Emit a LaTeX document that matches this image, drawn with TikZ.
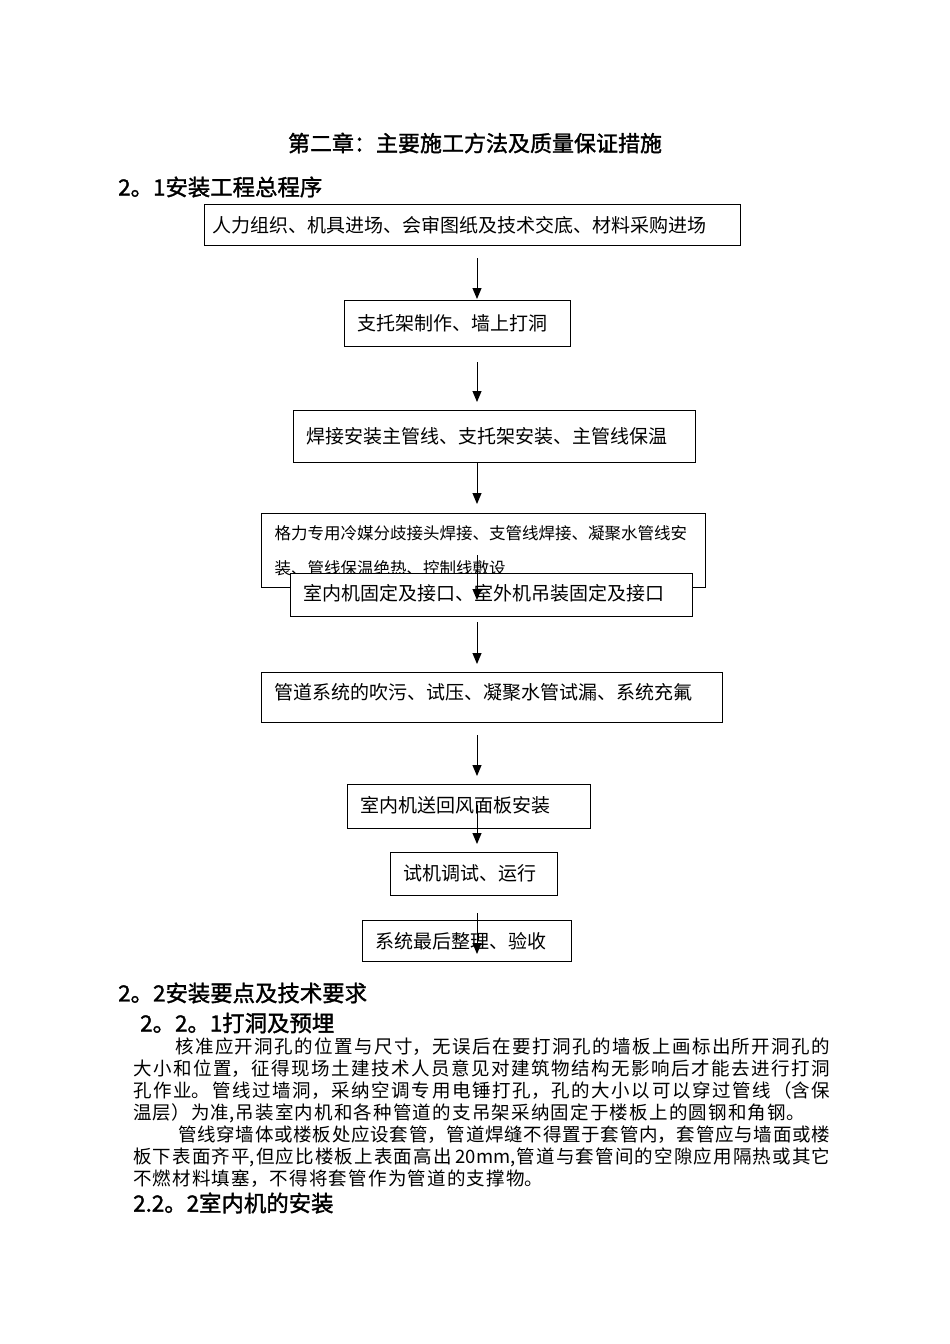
\documentclass[tikz,border=0pt]{standalone}
\usepackage{fontspec}
\newfontfamily\cjk{Noto Sans CJK SC}
\newfontfamily\cjkb[FakeBold=1.5]{Noto Sans CJK SC}
\usetikzlibrary{arrows.meta}
\newcommand\jline[1]{\parbox{697pt}{\XeTeXlinebreaklocale "zh"\XeTeXlinebreakskip=1.2pt plus 4pt minus 0.5pt\relax\parfillskip=0pt #1}}
\newcommand\rline[1]{\parbox{697pt}{\XeTeXlinebreaklocale "zh"\XeTeXlinebreakskip=1.2pt plus 4pt minus 0.5pt\relax #1}}
\begin{document}
\begin{tikzpicture}[x=1pt,y=-1pt,
  box/.style={draw, line width=1.1pt, anchor=north west, inner xsep=13pt, inner ysep=0pt, align=left, fill=white, font=\cjk\fontsize{19}{23}\selectfont},
  arr/.style={line width=1pt, -{Triangle[length=11pt,width=9pt]}},
  head/.style={anchor=west, inner sep=0pt, font=\cjkb\fontsize{22.4}{26}\selectfont},
  para/.style={anchor=west, inner sep=0pt, font=\cjk\fontsize{18.5}{22}\selectfont},
]
\useasboundingbox[fill=white] (0,0) rectangle (950,1344);

% headings
\node[head, anchor=center, font=\cjkb\fontsize{22}{26}\selectfont] (title) at (475,143) {第二章：主要施工方法及质量保证措施};
\node[head] (h21) at (118,187) {2。1安装工程总程序};

% flow boxes
\node[box, inner xsep=8pt, text width=520pt, minimum height=41pt] (b1) at (204,204) {人力组织、机具进场、会审图纸及技术交底、材料采购进场};
\node[box, text width=200pt, minimum height=46pt] (b2) at (344,300) {支托架制作、墙上打洞};
\node[box, text width=376pt, minimum height=52pt] (b3) at (293,410) {焊接安装主管线、支托架安装、主管线保温};
\node[box, text width=418pt, minimum height=74pt, font=\cjk\fontsize{16.5}{35}\selectfont] (b4) at (261,513) {格力专用冷媒分歧接头焊接、支管线焊接、凝聚水管线安\\装、管线保温绝热、控制线敷设};
\node[box, text width=376pt, minimum height=43pt] (b5) at (290,573) {室内机固定及接口、室外机吊装固定及接口\rule[-6pt]{0pt}{1pt}};
\node[box, text width=435pt, minimum height=50pt] (b6) at (261,672) {管道系统的吹污、试压、凝聚水管试漏、系统充氟\rule[-12pt]{0pt}{1pt}};
\node[box, text width=217pt, minimum height=44pt] (b7) at (347,784) {室内机送回风面板安装\rule[-4pt]{0pt}{1pt}};
\node[box, text width=141pt, minimum height=43pt] (b8) at (390,852) {试机调试、运行\rule[-4pt]{0pt}{1pt}};
\node[box, text width=183pt, minimum height=41pt] (b9) at (362,920) {系统最后整理、验收};

% arrow end points
\coordinate (c1s) at (477,258); \coordinate (c1e) at (477,299);
\coordinate (c2s) at (477,362); \coordinate (c2e) at (477,402);
\coordinate (c3s) at (477,463); \coordinate (c3e) at (477,504);
\coordinate (c4s) at (477,555); \coordinate (c4e) at (477,600);
\coordinate (c5s) at (477,622); \coordinate (c5e) at (477,664);
\coordinate (c6s) at (477,735); \coordinate (c6e) at (477,776);
\coordinate (c7s) at (477,805); \coordinate (c7e) at (477,844);
\coordinate (c8s) at (477,913); \coordinate (c8e) at (477,954);
\foreach \i in {1,...,8} {\draw[arr] (c\i s) -- (c\i e);}

% section 2.2
\node[head] (h22) at (118,993) {2。2安装要点及技术要求};
\node[head] (h221) at (140,1023) {2。2。1打洞及预埋};
\node[para] (p1) at (133,1047) {\jline{\hspace*{42pt}核准应开洞孔的位置与尺寸，无误后在要打洞孔的墙板上画标出所开洞孔的}};
\node[para] (p2) at (133,1069) {\jline{大小和位置，征得现场土建技术人员意见对建筑物结构无影响后才能去进行打洞}};
\node[para] (p3) at (133,1091) {\jline{孔作业。管线过墙洞，采纳空调专用电锤打孔，孔的大小以可以穿过管线（含保}};
\node[para] (p4) at (133,1113) {\rline{温层）为准,吊装室内机和各种管道的支吊架采纳固定于楼板上的圆钢和角钢。}};
\node[para] (p5) at (133,1135) {\jline{\hspace*{45pt}管线穿墙体或楼板处应设套管，管道焊缝不得置于套管内，套管应与墙面或楼}};
\node[para] (p6) at (133,1157) {\jline{板下表面齐平,但应比楼板上表面高出 20mm,管道与套管间的空隙应用隔热或其它}};
\node[para] (p7) at (133,1179) {\rline{不燃材料填塞，不得将套管作为管道的支撑物。}};
\node[head] (h222) at (133,1203) {2.2。2室内机的安装};
\end{tikzpicture}
\end{document}
